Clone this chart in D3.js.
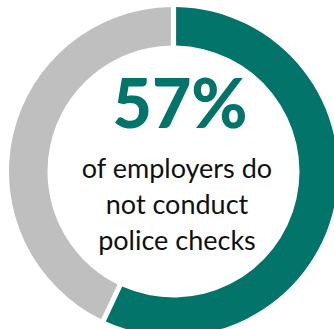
<!DOCTYPE html>
<html>
<head>
<meta charset="utf-8">
<script src="https://cdn.jsdelivr.net/npm/d3@7"></script>
<style>
  body { margin: 0; background: #fff; }
  svg { display: block; }
</style>
</head>
<body>
<div id="chart"></div>
<script>
var width = 334,
    height = 329;

// share of employers
var labels = ["do not conduct", "conduct"];
var values = [57, 43];
var colors = ["#03746a", "#bfbfbf"];
var headline = "57%";
var caption = ["of employers do", "not conduct", "police checks"];

var cx = 173.5, cy = 171.5,
    outer = 164.5, inner = 126;

var svg = d3.select("#chart").append("svg")
    .attr("width", width)
    .attr("height", height);

var pie = d3.pie().sort(null).value(function(d) { return d; });
var arc = d3.arc().innerRadius(inner).outerRadius(outer)
    .padAngle(0.025);

var g = svg.append("g")
    .attr("transform", "translate(" + cx + "," + cy + ")");

g.selectAll("path")
    .data(pie(values)).enter().append("path")
    .attr("d", arc)
    .attr("fill", function(d, i) { return colors[i]; });

//  centre text
var font = "Lato, 'Open Sans', sans-serif";

svg.append("text")
    .attr("x", 180).attr("y", 128)
    .attr("text-anchor", "middle")
    .style("font-family", font)
    .style("font-weight", 900)
    .style("font-size", "68px")
    .attr("fill", colors[0])
    .text(headline);

svg.append("g").selectAll("text")
    .data(caption).enter().append("text")
    .attr("x", 177)
    .attr("y", function(d, i) { return 178 + i * 36; })
    .attr("text-anchor", "middle")
    .style("font-family", font)
    .style("font-size", "27px")
    .attr("fill", "#111")
    .text(function(d) { return d; });
</script>
</body>
</html>
